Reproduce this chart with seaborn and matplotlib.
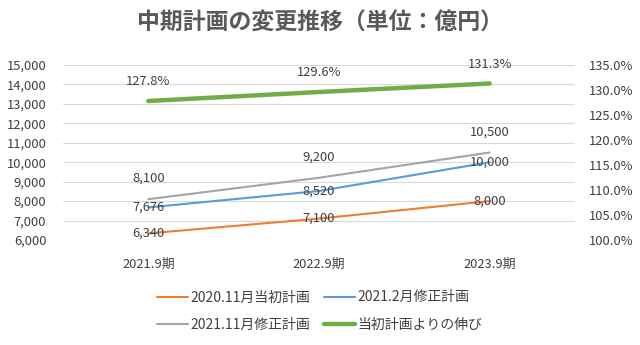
import matplotlib
matplotlib.use("Agg")
import matplotlib.pyplot as plt
import seaborn as sns
import pandas as pd
from matplotlib.lines import Line2D

periods = ["2021.9期", "2022.9期", "2023.9期"]
plan_2020_11 = [6340, 7100, 8000]
plan_2021_02 = [7676, 8520, 10000]
plan_2021_11 = [8100, 9200, 10500]
growth_pct = [127.8, 129.6, 131.3]
series_names = ["2020.11月当初計画", "2021.2月修正計画", "2021.11月修正計画", "当初計画よりの伸び"]
left_ticks = [6000, 7000, 8000, 9000, 10000, 11000, 12000, 13000, 14000, 15000]
right_ticks = [100, 105, 110, 115, 120, 125, 130, 135]
title = "中期計画の変更推移（単位：億円）"

sns.set_theme(style="white")
plt.rcParams["font.family"] = ["Noto Sans CJK JP", "DejaVu Sans"]
TXT = "#404040"
FS = 9.3

colors = {series_names[0]: "#ED7D31", series_names[1]: "#5B9BD5",
          series_names[2]: "#A5A5A5"}

df = pd.DataFrame({
    "period": periods * 3,
    "value": plan_2020_11 + plan_2021_02 + plan_2021_11,
    "series": [series_names[0]] * 3 + [series_names[1]] * 3 + [series_names[2]] * 3,
})
dg = pd.DataFrame({"period": periods, "value": growth_pct})

fig = plt.figure(figsize=(6.4, 3.45), dpi=100)
ax = fig.add_axes([63 / 640, 1 - 240 / 345, (575 - 63) / 640, (240 - 65) / 345])
sns.lineplot(data=df, x="period", y="value", hue="series", palette=colors,
             linewidth=1.5, ax=ax, legend=False, sort=False)
ax.set_xlim(-0.5, 2.5)
ax.set_ylim(6000, 15000)
ax.set_yticks(left_ticks)
ax.set_yticklabels([f"{v:,}" for v in left_ticks], fontsize=FS, color=TXT)
ax.grid(axis="y", color="#D9D9D9", linewidth=0.8)
ax.grid(axis="x", visible=False)
ax.set_xlabel("")
ax.set_ylabel("")
ax.tick_params(axis="x", pad=13, labelsize=FS, labelcolor=TXT, length=0)
ax.tick_params(axis="y", pad=12, length=0)
for s in ax.spines.values():
    s.set_visible(False)

ax2 = ax.twinx()
sns.lineplot(data=dg, x="period", y="value", color="#70AD47", linewidth=3.2,
             ax=ax2, legend=False, sort=False)
ax2.set_ylim(100, 135)
ax2.set_yticks(right_ticks)
ax2.set_yticklabels([f"{v:.1f}%" for v in right_ticks], fontsize=FS, color=TXT)
ax2.tick_params(axis="y", pad=10, length=0)
ax2.set_ylabel("")
ax2.grid(False)
for s in ax2.spines.values():
    s.set_visible(False)

kw = dict(fontsize=FS, color=TXT, ha="center", va="center")
for i in range(3):
    ax.annotate(f"{plan_2020_11[i]:,}", (i, plan_2020_11[i]), **kw)
    ax.annotate(f"{plan_2021_02[i]:,}", (i, plan_2021_02[i]), **kw)
    ax.annotate(f"{plan_2021_11[i]:,}", (i, plan_2021_11[i]), xytext=(0, 15),
                textcoords="offset points", **kw)
    ax2.annotate(f"{growth_pct[i]:.1f}%", (i, growth_pct[i]), xytext=(0, 14),
                 textcoords="offset points", **kw)

fig.text(0.5, 1 - 23 / 345, title, ha="center", va="center", fontsize=16.5,
         fontweight="bold", color="#595959")

handles = [Line2D([], [], color="#ED7D31", lw=1.5),
           Line2D([], [], color="#A5A5A5", lw=1.5),
           Line2D([], [], color="#5B9BD5", lw=1.5),
           Line2D([], [], color="#70AD47", lw=3.2)]
labels = [series_names[0], series_names[2], series_names[1], series_names[3]]
fig.legend(handles, labels, ncol=2, loc="center", bbox_to_anchor=(0.5, 1 - 311 / 345),
           frameon=False, fontsize=10, labelcolor=TXT, handlelength=2.2,
           handletextpad=0.2, columnspacing=1.0, labelspacing=0.95)

fig.savefig("out.png", dpi=100)
